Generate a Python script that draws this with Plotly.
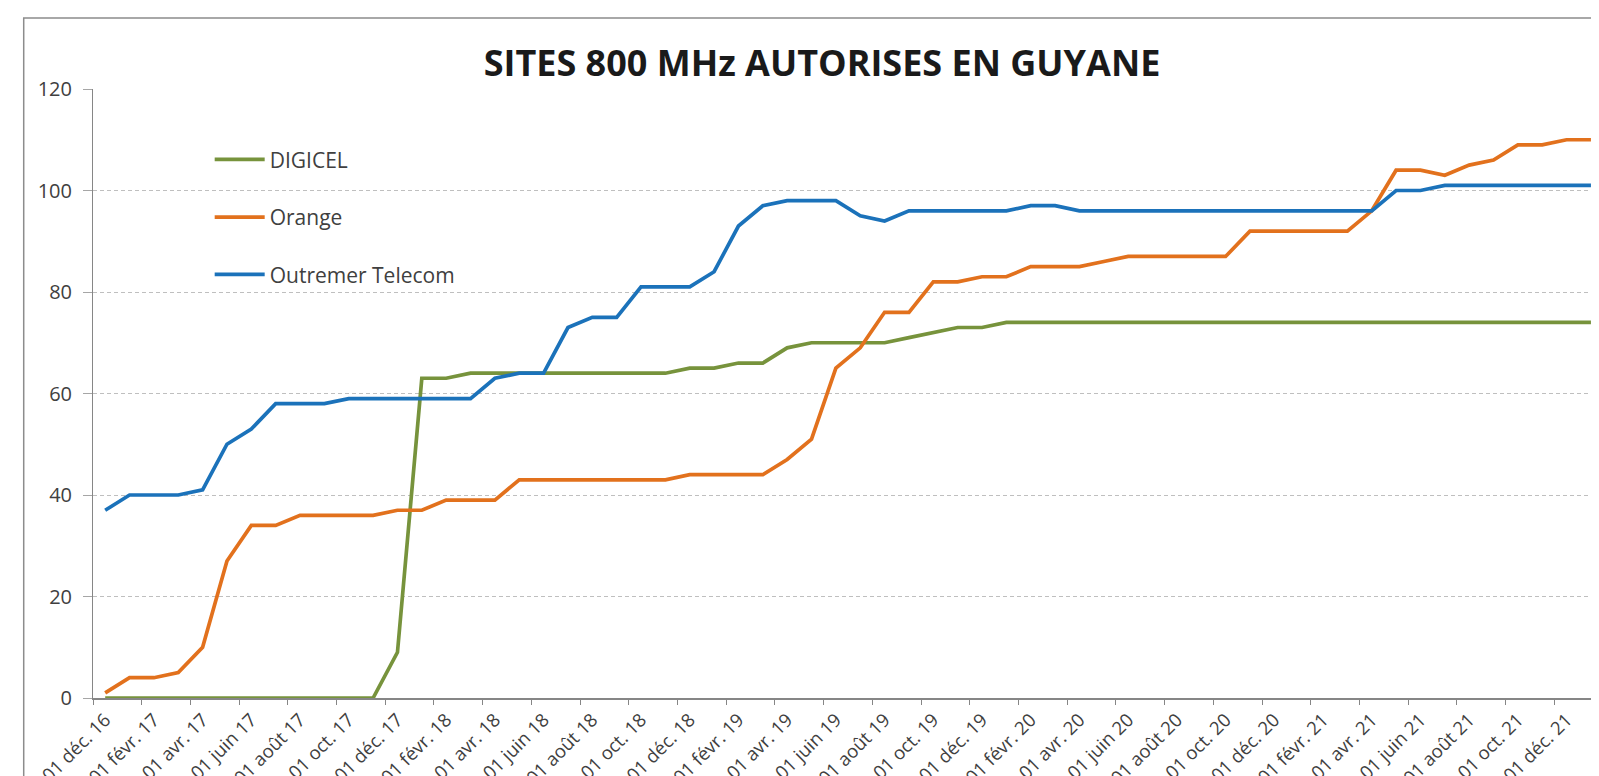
import plotly.graph_objects as go

# ---- data -----------------------------------------------------------------
months = [
    "01 déc. 16", "01 janv. 17", "01 févr. 17", "01 mars 17", "01 avr. 17", "01 mai 17",
    "01 juin 17", "01 juil. 17", "01 août 17", "01 sept. 17", "01 oct. 17", "01 nov. 17",
    "01 déc. 17", "01 janv. 18", "01 févr. 18", "01 mars 18", "01 avr. 18", "01 mai 18",
    "01 juin 18", "01 juil. 18", "01 août 18", "01 sept. 18", "01 oct. 18", "01 nov. 18",
    "01 déc. 18", "01 janv. 19", "01 févr. 19", "01 mars 19", "01 avr. 19", "01 mai 19",
    "01 juin 19", "01 juil. 19", "01 août 19", "01 sept. 19", "01 oct. 19", "01 nov. 19",
    "01 déc. 19", "01 janv. 20", "01 févr. 20", "01 mars 20", "01 avr. 20", "01 mai 20",
    "01 juin 20", "01 juil. 20", "01 août 20", "01 sept. 20", "01 oct. 20", "01 nov. 20",
    "01 déc. 20", "01 janv. 21", "01 févr. 21", "01 mars 21", "01 avr. 21", "01 mai 21",
    "01 juin 21", "01 juil. 21", "01 août 21", "01 sept. 21", "01 oct. 21", "01 nov. 21",
    "01 déc. 21", "01 janv. 22",
]

digicel = [0, 0, 0, 0, 0, 0, 0, 0, 0, 0, 0, 0,
           9, 63, 63, 64, 64, 64, 64, 64, 64, 64, 64, 64,
           65, 65, 66, 66, 69, 70, 70, 70, 70, 71, 72, 73,
           73, 74, 74, 74, 74, 74, 74, 74, 74, 74, 74, 74,
           74, 74, 74, 74, 74, 74, 74, 74, 74, 74, 74, 74,
           74, 74]

orange = [1, 4, 4, 5, 10, 27, 34, 34, 36, 36, 36, 36,
          37, 37, 39, 39, 39, 43, 43, 43, 43, 43, 43, 43,
          44, 44, 44, 44, 47, 51, 65, 69, 76, 76, 82, 82,
          83, 83, 85, 85, 85, 86, 87, 87, 87, 87, 87, 92,
          92, 92, 92, 92, 96, 104, 104, 103, 105, 106, 109, 109,
          110, 110]

outremer = [37, 40, 40, 40, 41, 50, 53, 58, 58, 58, 59, 59,
            59, 59, 59, 59, 63, 64, 64, 73, 75, 75, 81, 81,
            81, 84, 93, 97, 98, 98, 98, 95, 94, 96, 96, 96,
            96, 96, 97, 97, 96, 96, 96, 96, 96, 96, 96, 96,
            96, 96, 96, 96, 96, 100, 100, 101, 101, 101, 101, 101,
            101, 101]

series_names = ["DIGICEL", "Orange", "Outremer Telecom"]
series_colors = ["#77933C", "#E2711D", "#1B72BA"]
y_ticks = [0, 20, 40, 60, 80, 100, 120]

# ---- geometry (page pixels; the html body has an 8px margin) ---------------
OFF = 8
PAGE_W, PAGE_H = 1599, 776
W, H = PAGE_W - OFF, PAGE_H - OFF
AX_LEFT, AX_TOP, AX_BOTTOM = 92.8, 89.3, 698.3          # page coords
L = AX_LEFT - OFF
T = AX_TOP - OFF
B = H - (AX_BOTTOM - OFF)
R = 0
plot_w = W - L - R
plot_h = H - T - B
cat_w = 24.36
x_max = -0.5 + plot_w / cat_w

idx = list(range(len(months)))


def px_to_paper_x(px):
    return (px - OFF - L) / plot_w


def py_to_paper_y(py):
    return (AX_BOTTOM - py) / plot_h


FONT = "Open Sans, Lato, sans-serif"
TXT = "#404040"
AXIS = "#868686"

fig = go.Figure()
legend_ids = ["legend", "legend2", "legend3"]
for name, vals, col, lg in zip(series_names, [digicel, orange, outremer], series_colors, legend_ids):
    fig.add_trace(go.Scatter(
        x=idx, y=vals, mode="lines", name=name,
        line=dict(color=col, width=3.7),
        legend=lg, showlegend=True, hoverinfo="x+y+name",
    ))

legend_common = dict(
    xanchor="left", yanchor="middle",
    font=dict(family=FONT, size=21, color=TXT),
    bgcolor="rgba(0,0,0,0)", borderwidth=0, itemwidth=50,
)
legend_y_px = [160, 217.7, 275]
legend_x = px_to_paper_x(209.5)

fig.update_layout(
    width=W, height=H, autosize=False, showlegend=True,
    margin=dict(l=L, r=R, t=T, b=B, pad=0),
    paper_bgcolor="white", plot_bgcolor="white",
    title=dict(
        text="SITES 800 MHz AUTORISES EN GUYANE",
        font=dict(family=FONT, size=36, color="#1a1a1a", weight="bold"),
        x=(822 - OFF) / W, xanchor="center", xref="container",
        y=1 - (63 - OFF) / H, yanchor="middle", yref="container",
    ),
    legend=dict(x=legend_x, y=py_to_paper_y(legend_y_px[0]), **legend_common),
    legend2=dict(x=legend_x, y=py_to_paper_y(legend_y_px[1]), **legend_common),
    legend3=dict(x=legend_x, y=py_to_paper_y(legend_y_px[2]), **legend_common),
    xaxis=dict(
        range=[-0.5, x_max],
        showgrid=False, zeroline=False,
        showline=True, linecolor=AXIS, linewidth=1.5,
        tickmode="array",
        tickvals=idx[::2], ticktext=months[::2],
        tickangle=-45, ticks="",
        ticklabelstandoff=2,
        tickfont=dict(family=FONT, size=18.5, color=TXT),
        minor=dict(tickmode="array", tickvals=[i - 0.5 for i in idx[::2]],
                   ticks="outside", ticklen=5, tickcolor=AXIS, tickwidth=1.2,
                   showgrid=False),
        automargin=False, fixedrange=True,
    ),
    yaxis=dict(
        range=[0, 120], tickmode="array", tickvals=y_ticks,
        showgrid=True, gridcolor="#BFBFBF", griddash="4px,3px", gridwidth=1,
        zeroline=False,
        showline=True, linecolor=AXIS, linewidth=1,
        ticks="outside", ticklen=9, tickcolor="#A6A6A6", tickwidth=1,
        ticklabelstandoff=7,
        tickfont=dict(family=FONT, size=20, color=TXT),
        automargin=False, fixedrange=True,
    ),
    shapes=[dict(
        type="rect", xref="paper", yref="paper",
        x0=px_to_paper_x(23.5), x1=px_to_paper_x(PAGE_W + 40),
        y0=py_to_paper_y(PAGE_H + 40), y1=py_to_paper_y(18.3),
        line=dict(color="#8c8c8c", width=1.5), fillcolor="rgba(0,0,0,0)",
        layer="below",
    )],
)

fig.write_html("out.html")
